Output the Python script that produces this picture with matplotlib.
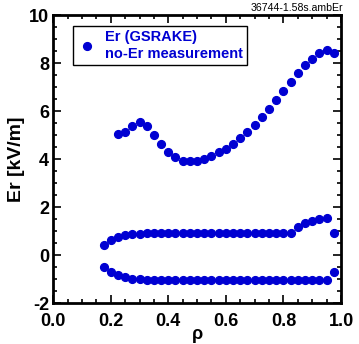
import matplotlib
matplotlib.use("Agg")
import matplotlib.pyplot as plt
from matplotlib.ticker import MultipleLocator

plt.rcParams["font.family"] = ["Liberation Sans", "DejaVu Sans"]

# upper branch (Er from GSRAKE)
rho_up = [0.225, 0.25, 0.275, 0.3, 0.325, 0.35, 0.375, 0.4, 0.425, 0.45,
          0.475, 0.5, 0.525, 0.55, 0.575, 0.6, 0.625, 0.65, 0.675, 0.7,
          0.725, 0.75, 0.775, 0.8, 0.825, 0.85, 0.875, 0.9, 0.925, 0.95, 0.975]
er_up = [5.03, 5.15, 5.40, 5.56, 5.38, 5.00, 4.63, 4.28, 4.07, 3.94,
         3.90, 3.90, 3.99, 4.13, 4.28, 4.43, 4.65, 4.86, 5.13, 5.44,
         5.76, 6.08, 6.46, 6.83, 7.21, 7.58, 7.92, 8.19, 8.43, 8.54, 8.42]

# middle branch
rho_lo = [0.175, 0.2, 0.225, 0.25, 0.275, 0.3, 0.325, 0.35, 0.375, 0.4,
          0.425, 0.45, 0.475, 0.5, 0.525, 0.55, 0.575, 0.6, 0.625, 0.65,
          0.675, 0.7, 0.725, 0.75, 0.775, 0.8, 0.825, 0.85, 0.875, 0.9,
          0.925, 0.95, 0.975]
er_mid = [0.40, 0.61, 0.76, 0.83, 0.86, 0.88, 0.92, 0.92, 0.92, 0.92,
          0.92, 0.92, 0.92, 0.92, 0.92, 0.92, 0.92, 0.92, 0.92, 0.92,
          0.92, 0.92, 0.92, 0.92, 0.92, 0.94, 0.93, 1.17, 1.32, 1.44,
          1.50, 1.54, 0.94]

# negative branch
er_neg = [-0.50, -0.71, -0.85, -0.93, -0.99, -1.01, -1.05, -1.05, -1.05, -1.05,
          -1.05, -1.05, -1.05, -1.05, -1.05, -1.05, -1.05, -1.05, -1.05, -1.05,
          -1.05, -1.05, -1.05, -1.05, -1.05, -1.05, -1.05, -1.05, -1.05, -1.05,
          -1.05, -1.05, -0.72]

blue = "#0000d2"

fig = plt.figure(figsize=(3.59, 3.44), dpi=100)
ax = fig.add_axes([0.148, 0.119, 0.802, 0.837])

ax.plot(rho_up, er_up, "o", color=blue, ms=5.6, label="Er (GSRAKE)\nno-Er measurement")
ax.plot(rho_lo, er_mid, "o", color=blue, ms=5.6)
ax.plot(rho_lo, er_neg, "o", color=blue, ms=5.6)

ax.set_xlim(0, 1)
ax.set_ylim(-2, 10)
ax.xaxis.set_major_locator(MultipleLocator(0.2))
ax.xaxis.set_minor_locator(MultipleLocator(0.05))
ax.yaxis.set_major_locator(MultipleLocator(2))
ax.yaxis.set_minor_locator(MultipleLocator(0.5))
ax.tick_params(which="both", direction="in", top=True, right=True, width=1.2)
ax.tick_params(which="major", length=6, labelsize=13)
ax.tick_params(axis="x", which="major", pad=7)
ax.tick_params(axis="y", which="major", pad=3)
ax.tick_params(which="minor", length=3)
ax.set_xticklabels([f"{v:.1f}" for v in ax.get_xticks()], fontweight="bold")
ax.set_yticklabels([f"{v:.0f}" for v in ax.get_yticks()], fontweight="bold")
for s in ax.spines.values():
    s.set_linewidth(2)

ax.set_xlabel("ρ", fontsize=13, fontweight="bold", labelpad=-3)
ax.set_ylabel("Er [kV/m]", fontsize=14, fontweight="bold", labelpad=3)

leg = ax.legend(loc="upper left", bbox_to_anchor=(0.068, 0.962), fancybox=False,
                framealpha=1, edgecolor="black", handletextpad=0.5,
                borderpad=0.3, prop={"size": 10.5, "weight": "bold"},
                handlelength=1.4, labelcolor=blue, borderaxespad=0)
leg.get_frame().set_linewidth(1)

fig.text(0.955, 0.962, "36744-1.58s.ambEr", ha="right", va="bottom", fontsize=7.6)

fig.savefig("out.png", dpi=100)
